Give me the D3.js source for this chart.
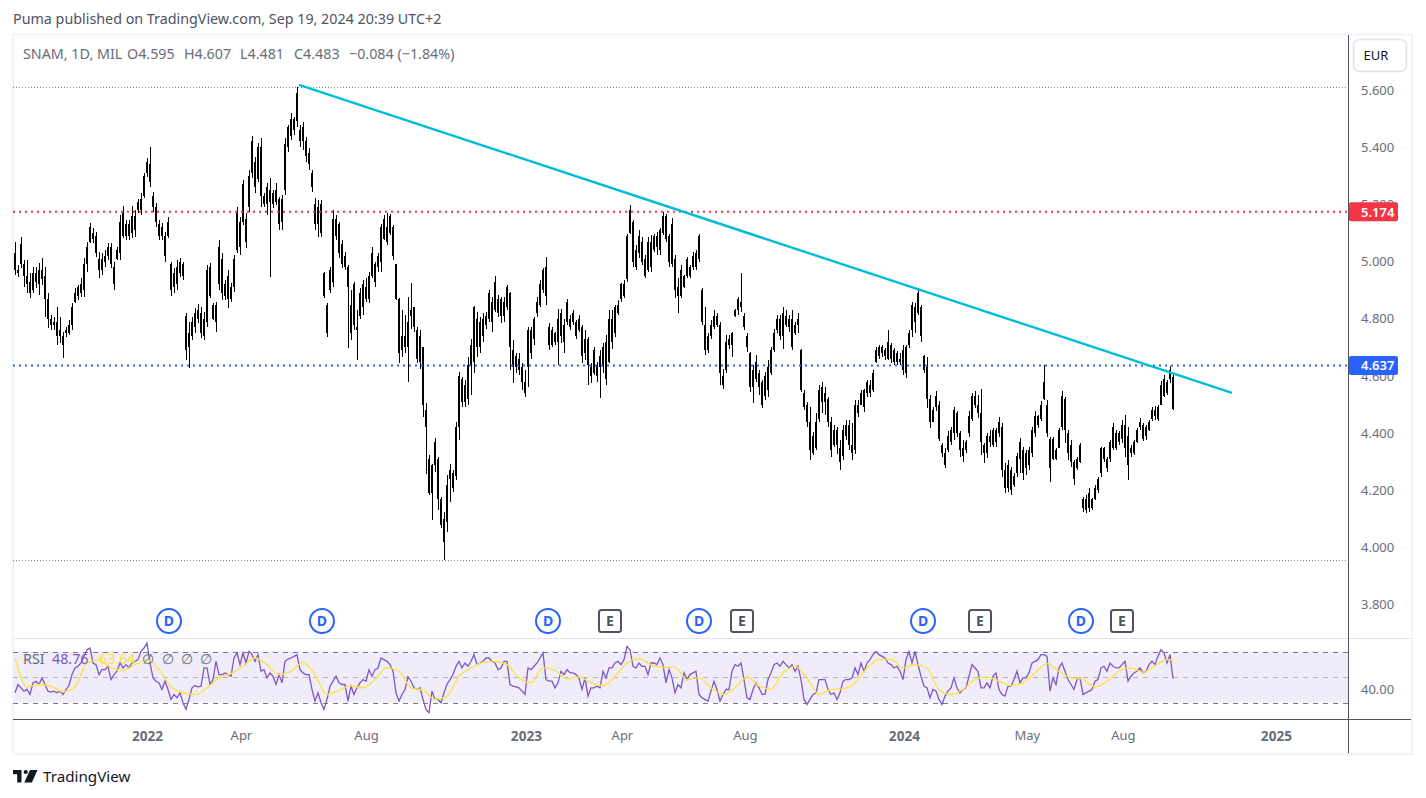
<!DOCTYPE html>
<html>
<head>
<meta charset="utf-8">
<title>SNAM daily</title>
<script src="https://cdn.jsdelivr.net/npm/d3@7/dist/d3.min.js"></script>
<style>
  html, body { margin: 0; padding: 0; background: #fff; }
  svg { display: block; }
  text { font-family: "Noto Sans", sans-serif; }
</style>
</head>
<body>
<svg id="chart" width="1426" height="798"></svg>
<script>
// Price bars, one entry per two sessions, oldest first.
const highs = [
5.067,4.988,5.087,5.006,5.006,4.959,4.982,4.982,4.994,5.011,
4.982,4.889,4.813,4.807,4.842,4.807,4.755,4.772,4.796,4.854,
4.907,4.918,4.942,5.011,5.070,5.134,5.116,5.105,5.035,5.029,
5.041,5.064,5.064,5.000,5.052,5.163,5.194,5.145,5.145,5.194,
5.180,5.218,5.239,5.311,5.361,5.402,5.245,5.204,5.145,5.134,
5.105,5.157,5.000,4.976,5.006,5.011,5.000,4.819,4.790,4.807,
4.837,4.852,4.842,4.825,4.988,4.996,4.854,4.860,5.076,5.029,
4.936,4.971,4.924,5.023,5.192,5.157,5.285,5.169,5.320,5.439,
5.367,5.414,5.431,5.239,5.274,5.291,5.250,5.274,5.227,5.233,
5.431,5.478,5.518,5.507,5.612,5.478,5.487,5.437,5.396,5.321,
5.222,5.216,5.216,4.964,4.854,4.982,5.182,5.163,5.139,5.075,
5.034,4.988,4.900,4.929,4.830,4.906,4.935,4.941,4.964,5.052,
4.999,5.029,5.133,5.163,5.171,5.168,5.128,4.993,4.871,4.830,
4.813,4.877,4.924,4.842,4.772,4.760,4.702,4.504,4.323,4.294,
4.382,4.318,4.178,4.125,4.254,4.294,4.271,4.440,4.615,4.597,
4.586,4.667,4.731,4.844,4.825,4.807,4.819,4.825,4.900,4.877,
4.949,4.883,4.877,4.877,4.918,4.894,4.725,4.679,4.679,4.644,
4.621,4.772,4.772,4.807,4.877,4.935,4.976,5.017,4.784,4.772,
4.755,4.836,4.836,4.801,4.869,4.813,4.830,4.795,4.813,4.778,
4.760,4.737,4.644,4.702,4.650,4.691,4.714,4.743,4.830,4.830,
4.848,4.865,4.924,4.935,5.098,5.198,5.145,5.058,5.110,5.087,
5.023,5.087,5.093,5.098,5.104,5.116,5.174,5.168,5.098,5.151,
5.023,4.941,4.988,4.953,5.017,4.988,5.034,5.040,5.098,4.906,
4.842,4.749,4.795,4.830,4.819,4.790,4.626,4.743,4.743,4.755,
4.836,4.877,4.959,4.819,4.749,4.685,4.638,4.673,4.621,4.586,
4.615,4.656,4.702,4.766,4.813,4.813,4.842,4.830,4.813,4.830,
4.790,4.819,4.696,4.551,4.510,4.492,4.405,4.469,4.568,4.580,
4.562,4.527,4.457,4.428,4.422,4.376,4.428,4.446,4.446,4.434,
4.516,4.516,4.551,4.556,4.586,4.586,4.621,4.702,4.708,4.708,
4.697,4.761,4.715,4.697,4.689,4.680,4.709,4.709,4.761,4.860,
4.854,4.907,4.849,4.674,4.668,4.534,4.493,4.546,4.511,4.365,
4.347,4.406,4.423,4.493,4.476,4.406,4.377,4.377,4.476,4.540,
4.546,4.534,4.554,4.365,4.400,4.412,4.417,4.417,4.458,4.435,
4.295,4.307,4.283,4.260,4.330,4.382,4.353,4.342,4.353,4.423,
4.476,4.464,4.511,4.639,4.516,4.388,4.388,4.347,4.417,4.546,
4.528,4.412,4.377,4.307,4.318,4.365,4.178,4.184,4.208,4.172,
4.219,4.248,4.353,4.353,4.318,4.377,4.435,4.412,4.406,4.446,
4.464,4.423,4.359,4.377,4.417,4.452,4.435,4.429,4.446,4.493,
4.495,4.499,4.581,4.604,4.586,4.636,4.607
];
const lows = [
4.953,4.947,4.979,4.912,4.889,4.872,4.889,4.907,4.883,4.918,
4.808,4.767,4.761,4.761,4.708,4.714,4.662,4.737,4.743,4.761,
4.854,4.866,4.877,4.877,4.965,5.064,5.064,5.017,4.942,4.953,
4.982,5.006,4.976,4.901,5.006,5.006,5.081,5.076,5.076,5.081,
5.087,5.169,5.163,5.221,5.297,5.262,5.175,5.122,5.076,5.076,
5.000,5.081,4.880,4.889,4.901,4.947,4.936,4.656,4.627,4.726,
4.749,4.784,4.732,4.726,4.772,4.872,4.796,4.755,4.901,4.866,
4.866,4.837,4.860,4.895,5.029,5.023,5.128,5.046,5.175,5.291,
5.239,5.279,5.192,5.192,5.163,4.947,5.186,5.198,5.111,5.111,
5.233,5.384,5.425,5.443,5.470,5.402,5.390,5.349,5.320,5.245,
5.111,5.087,5.087,4.871,4.735,4.889,4.910,5.075,5.011,4.976,
4.970,4.699,4.725,4.760,4.656,4.801,4.813,4.860,4.854,4.941,
4.912,4.964,4.964,5.077,5.058,5.093,5.005,4.865,4.644,4.667,
4.679,4.580,4.766,4.755,4.644,4.626,4.457,4.259,4.184,4.096,
4.265,4.131,4.067,3.956,4.055,4.160,4.195,4.236,4.376,4.492,
4.492,4.498,4.533,4.609,4.667,4.679,4.720,4.766,4.790,4.755,
4.825,4.807,4.784,4.790,4.830,4.621,4.574,4.609,4.603,4.551,
4.527,4.562,4.661,4.708,4.807,4.842,4.889,4.848,4.691,4.702,
4.708,4.638,4.714,4.679,4.778,4.760,4.778,4.731,4.755,4.644,
4.656,4.568,4.574,4.603,4.580,4.522,4.609,4.568,4.644,4.696,
4.737,4.813,4.860,4.871,4.929,5.098,4.982,4.970,5.011,4.988,
4.941,4.964,4.964,5.034,5.023,5.023,5.093,5.069,4.982,4.982,
4.871,4.819,4.871,4.906,4.941,4.941,4.970,4.970,5.000,4.778,
4.673,4.679,4.731,4.766,4.772,4.568,4.556,4.609,4.696,4.667,
4.807,4.813,4.825,4.760,4.685,4.545,4.504,4.580,4.533,4.487,
4.516,4.527,4.603,4.685,4.749,4.725,4.696,4.772,4.755,4.691,
4.743,4.749,4.545,4.481,4.422,4.306,4.323,4.341,4.440,4.469,
4.463,4.422,4.318,4.353,4.329,4.271,4.306,4.376,4.341,4.306,
4.329,4.457,4.498,4.475,4.527,4.527,4.545,4.644,4.661,4.667,
4.656,4.656,4.645,4.639,4.639,4.639,4.604,4.592,4.697,4.738,
4.750,4.814,4.720,4.610,4.487,4.417,4.441,4.476,4.371,4.318,
4.277,4.336,4.359,4.377,4.388,4.318,4.301,4.330,4.388,4.441,
4.487,4.452,4.324,4.295,4.312,4.353,4.353,4.353,4.388,4.248,
4.190,4.196,4.184,4.213,4.248,4.260,4.237,4.254,4.272,4.318,
4.388,4.417,4.441,4.516,4.388,4.231,4.306,4.306,4.347,4.412,
4.365,4.306,4.283,4.219,4.272,4.295,4.126,4.120,4.126,4.132,
4.167,4.190,4.248,4.301,4.266,4.301,4.342,4.342,4.359,4.365,
4.318,4.237,4.318,4.324,4.365,4.412,4.371,4.377,4.406,4.441,
4.446,4.441,4.499,4.528,4.534,4.577,4.481
];
const opens = [
5.03,4.97,4.99,4.99,4.95,4.93,4.90,4.96,4.92,4.97,
4.95,4.87,4.80,4.78,4.74,4.76,4.74,4.75,4.75,4.78,
4.86,4.88,4.89,4.90,4.99,5.07,5.10,5.09,5.01,4.97,
5.00,5.02,5.05,4.98,5.01,5.03,5.09,5.13,5.09,5.10,
5.16,5.18,5.18,5.23,5.31,5.34,5.23,5.19,5.13,5.09,
5.09,5.09,4.99,4.91,4.92,4.96,4.99,4.81,4.70,4.74,
4.77,4.80,4.82,4.74,4.79,4.98,4.85,4.79,4.92,5.01,
4.88,4.87,4.91,4.91,5.04,5.14,5.14,5.15,5.19,5.31,
5.35,5.29,5.40,5.23,5.20,5.25,5.20,5.21,5.22,5.14,
5.25,5.40,5.44,5.50,5.49,5.46,5.42,5.42,5.38,5.31,
5.20,5.13,5.20,4.96,4.85,4.90,4.93,5.15,5.13,5.06,
4.98,4.98,4.75,4.78,4.76,4.81,4.84,4.91,4.87,4.95,
4.99,4.98,5.00,5.08,5.12,5.10,5.12,4.99,4.87,4.69,
4.74,4.70,4.81,4.84,4.76,4.65,4.70,4.48,4.31,4.19,
4.29,4.31,4.17,4.10,4.09,4.24,4.26,4.25,4.42,4.59,
4.51,4.52,4.64,4.65,4.80,4.70,4.74,4.78,4.80,4.86,
4.83,4.87,4.81,4.81,4.84,4.89,4.69,4.63,4.66,4.63,
4.58,4.63,4.68,4.73,4.82,4.85,4.90,4.98,4.77,4.71,
4.75,4.72,4.74,4.78,4.79,4.80,4.79,4.79,4.76,4.77,
4.68,4.73,4.63,4.61,4.64,4.67,4.63,4.59,4.65,4.80,
4.75,4.82,4.87,4.92,4.94,5.10,5.14,4.98,5.03,5.07,
5.01,4.97,5.07,5.04,5.09,5.04,5.10,5.16,5.09,4.99,
5.01,4.91,4.88,4.95,4.95,4.98,4.98,5.03,5.01,4.90,
4.78,4.69,4.74,4.77,4.81,4.78,4.57,4.62,4.73,4.71,
4.81,4.83,4.84,4.81,4.74,4.68,4.56,4.59,4.61,4.58,
4.53,4.55,4.61,4.69,4.76,4.80,4.74,4.81,4.77,4.80,
4.75,4.78,4.69,4.54,4.50,4.44,4.33,4.35,4.45,4.56,
4.51,4.52,4.44,4.36,4.41,4.35,4.32,4.39,4.43,4.36,
4.34,4.47,4.50,4.49,4.54,4.57,4.55,4.65,4.67,4.70,
4.67,4.66,4.71,4.69,4.65,4.66,4.69,4.61,4.71,4.76,
4.84,4.82,4.84,4.67,4.63,4.52,4.44,4.49,4.50,4.36,
4.33,4.34,4.37,4.40,4.47,4.40,4.35,4.34,4.40,4.45,
4.53,4.50,4.47,4.36,4.33,4.39,4.36,4.41,4.40,4.42,
4.27,4.21,4.27,4.22,4.26,4.31,4.34,4.28,4.34,4.33,
4.40,4.46,4.45,4.52,4.50,4.38,4.31,4.34,4.35,4.42,
4.52,4.40,4.36,4.30,4.28,4.30,4.17,4.13,4.19,4.17,
4.17,4.20,4.26,4.35,4.31,4.31,4.35,4.40,4.37,4.38,
4.43,4.39,4.33,4.33,4.37,4.42,4.43,4.39,4.41,4.45,
4.48,4.45,4.50,4.53,4.58,4.59,4.595
];
const closes = [
4.97,4.96,5.06,4.95,4.92,4.89,4.96,4.93,4.97,4.94,
4.87,4.80,4.78,4.79,4.79,4.74,4.71,4.76,4.78,4.84,
4.89,4.91,4.92,4.99,5.05,5.12,5.08,5.03,4.97,5.01,
5.02,5.05,4.99,4.92,5.04,5.14,5.17,5.09,5.13,5.16,
5.11,5.21,5.22,5.30,5.35,5.28,5.19,5.14,5.09,5.12,
5.02,5.14,4.90,4.96,4.98,5.00,4.95,4.69,4.75,4.79,
4.82,4.83,4.75,4.80,4.97,4.88,4.80,4.85,5.05,4.89,
4.92,4.95,4.87,5.01,5.17,5.05,5.27,5.07,5.30,5.42,
5.26,5.40,5.23,5.20,5.26,5.21,5.24,5.25,5.13,5.22,
5.41,5.47,5.50,5.46,5.59,5.42,5.47,5.37,5.34,5.26,
5.13,5.19,5.10,4.88,4.75,4.97,5.15,5.09,5.03,4.99,
5.02,4.91,4.85,4.92,4.77,4.89,4.92,4.87,4.95,5.03,
4.93,5.02,5.12,5.15,5.07,5.16,5.02,4.87,4.68,4.74,
4.70,4.79,4.83,4.77,4.66,4.74,4.50,4.42,4.19,4.29,
4.37,4.17,4.08,4.02,4.22,4.27,4.21,4.42,4.60,4.51,
4.57,4.64,4.71,4.84,4.70,4.79,4.80,4.81,4.89,4.79,
4.93,4.82,4.87,4.86,4.91,4.70,4.63,4.67,4.62,4.58,
4.54,4.76,4.76,4.80,4.86,4.92,4.97,4.88,4.71,4.76,
4.72,4.80,4.82,4.72,4.86,4.77,4.82,4.74,4.80,4.67,
4.73,4.64,4.60,4.69,4.60,4.63,4.70,4.72,4.80,4.72,
4.84,4.85,4.92,4.88,5.09,5.18,5.00,5.04,5.09,5.00,
4.95,5.07,4.98,5.09,5.05,5.11,5.16,5.08,5.00,5.13,
4.90,4.88,4.97,4.91,5.01,4.95,5.02,4.98,5.09,4.79,
4.69,4.74,4.78,4.81,4.78,4.61,4.60,4.72,4.71,4.75,
4.83,4.87,4.86,4.77,4.70,4.56,4.62,4.65,4.56,4.50,
4.60,4.63,4.69,4.75,4.80,4.74,4.82,4.78,4.80,4.70,
4.78,4.80,4.55,4.49,4.44,4.34,4.39,4.44,4.55,4.51,
4.54,4.44,4.34,4.41,4.36,4.30,4.41,4.43,4.36,4.33,
4.50,4.50,4.54,4.55,4.58,4.54,4.61,4.69,4.70,4.68,
4.69,4.72,4.66,4.65,4.68,4.65,4.62,4.70,4.75,4.85,
4.79,4.89,4.74,4.62,4.52,4.44,4.48,4.53,4.38,4.33,
4.29,4.39,4.41,4.48,4.40,4.34,4.32,4.37,4.46,4.53,
4.50,4.47,4.37,4.33,4.39,4.37,4.41,4.37,4.44,4.27,
4.21,4.29,4.20,4.25,4.32,4.37,4.26,4.33,4.29,4.41,
4.46,4.43,4.50,4.58,4.40,4.28,4.38,4.31,4.41,4.53,
4.41,4.33,4.30,4.24,4.31,4.36,4.14,4.17,4.14,4.14,
4.21,4.24,4.35,4.31,4.28,4.37,4.42,4.35,4.40,4.43,
4.35,4.29,4.35,4.37,4.41,4.44,4.38,4.42,4.44,4.48,
4.46,4.49,4.57,4.59,4.54,4.62,4.483
];
const previousClose = 4.567;

// Relative strength index for the same bars.
const rsiValues = [
37.6,44.1,41.5,38.9,40.2,36.3,45.4,46.7,44.1,49.3,
44.1,38.9,38.1,38.9,37.6,38.9,36.3,40.2,43.3,51.9,
57.1,58.4,61,66.2,71.4,72.7,61,59.7,51.9,55.8,
55.8,58.4,48,51.9,54.5,61,57.1,59.7,57.1,61,
62.3,63.6,70.1,72.7,76.6,61,49.3,46.7,45.4,40.2,
46.7,40.2,32.4,36.3,33.7,37.6,29.8,24.6,32.4,41.5,
43.3,42.3,42.8,57.1,57.1,44.1,48,62.3,51.9,51.9,
53.2,51.9,50.6,64.9,68.8,59.7,68.8,61,70.1,67.5,
62.3,67.5,54.5,55.8,49.3,53.2,50.6,44.1,51.9,45.4,
62.3,64.1,64.9,66.2,67.5,55.8,53.2,51.9,51.9,40.2,
31.1,37.6,29.8,24.6,32.4,42.8,46.7,50.6,45.4,44.1,
44.1,31.1,42.8,36.3,41.5,45.4,48,46.7,55.8,50.6,
55.8,57.1,64.9,63.6,62.3,59.7,54.5,37.6,31.1,
36.3,40.2,50.1,46.7,41.5,40.2,41.5,32.4,24.6,22,
38.9,32.4,32.4,29.8,37.6,44.1,48,51.9,58.4,62.3,
57.1,61,58.4,62.3,67.5,59.7,61,62.3,64.9,64.9,
62.3,61,55.8,57.1,62.3,62.3,44.1,42.8,42.3,41.5,
38.9,36.3,57.1,55.8,58.4,61,64.9,68.8,48,46.7,
46.7,41.5,45.4,54.5,51.9,55.8,53.2,53.2,51.9,49.3,
40.2,49.3,35,41.5,41.5,42.8,41.5,54.5,49.3,57.1,
57.1,61,62.3,59.7,63.6,74,71.4,58.4,57.1,61,
58.4,58.4,51.9,61,61,59.7,64.9,59.7,45.4,55.8,
49.3,37.6,44.1,41.5,53.2,48,51.9,53.2,54.5,36.3,
33.7,32.4,31.1,38.9,46.7,40.2,31.1,36.3,40.2,40.2,
54.5,59.7,58.4,61,48,33.7,32.4,40.2,45.4,41.5,
36.3,36.3,48,53.2,59.7,61,58.4,62.3,59.7,57.1,
59.7,54.5,58.4,
48,32.4,28.5,32.4,36.3,37.6,48,48,48,40.2,
36.3,37.6,32.4,37.6,46.7,48,48,49.3,57.1,51.9,
61,54.5,61,63.6,67.5,70.1,67.5,66.2,64.9,61,
59.7,57.1,58.4,54.5,48,63.6,70.1,61,70.1,59.7,
50.6,42.8,41.5,33.7,40.2,38.9,32.4,28.5,35,38.9,
41.5,49.3,41.5,37.6,40.2,41.5,50.6,59.7,57.1,54.5,
41.5,41.5,45.4,41.5,50.6,53.2,40.2,36.3,35,42.8,
42.8,48,54.5,45.4,49.3,49.3,53.2,61,62.3,63.6,
67.5,67.5,66.2,38.9,49.3,44.1,57.1,61,54.5,48,
44.1,40.2,48,49.3,36.3,37.6,38.9,40.2,46.7,48,
57.1,58.4,54.5,61,58.4,57.1,57.1,59.7,62.3,46.7,
50.6,53.2,54.5,57.1,53.2,54.5,59.7,62.3,59.7,66.2,
71.4,68.8,61,67.5,48.76
];

// Moving average of the RSI, one reading per four bars plus the last bar.
const rsiAverage = [
64.9,42.3,44.1,42.8,38.4,42.3,61,63.6,57.1,55.3,59.7,63.6,55.8,42.3,37.6,36.3,41.5,
49.3,52.7,58.4,64.9,59.7,51.9,54.5,61.5,51.9,36.3,39.7,42.8,41.5,48,57.1,54.5,
41.5,39.7,32.4,35,50.6,57.1,61.5,62.1,59.7,49.3,45.4,57.1,55.3,48.5,50.1,45.4,43.3,
50.6,61,64.4,59.7,57.6,57.6,48,49.3,41.5,36.3,41.5,50.1,42.8,40.7,53.2,58.4,
49.3,36.3,40.2,40.7,45.4,57.1,63.6,63.6,57.1,59.7,57.1,40.2,36.3,40.2,48,50.1,46.7,
43.3,45.4,53.2,60.5,54.5,49.3,48,42.3,46.7,54.5,57.1,53.7,58.9,63.6,63.64
];

// Axis labels; bar numbers count from the first entry and run past the last for future dates.
const priceTicks = [5.6, 5.4, 5.2, 5.0, 4.8, 4.6, 4.4, 4.2, 4.0, 3.8];
const rsiTicks = [40];
const timeLabels = ["2022", "Apr", "Aug", "2023", "Apr", "Aug", "2024", "May", "Aug", "2025"];
const timeBars = [44, 75.3, 117, 170.3, 202.3, 243.3, 296.3, 337.3, 369.3, 420.3];

// Levels and drawings on the price pane.
const resistanceLevel = 5.174;
const supportLevel = 4.637;
const rangeHigh = 5.609;
const rangeLow = 3.955;
const trendBars = [94.67, 405.67];
const trendPrices = [5.618, 4.541];

// Dividend and earnings events, as bar numbers.
const dividendBars = [51.33, 102.33, 177.67, 228, 302.67, 355.33];
const earningsBars = [198.33, 242.33, 321.67, 369];

const last = highs.length - 1;
const x = d3.scaleLinear().domain([0, last]).range([15, 1173]);
const y = d3.scaleLinear().domain([3.8, 5.6]).range([604.8, 90]);
const yRsi = d3.scaleLinear().domain([30, 70]).range([702.5, 651.5]);

const paneLeft = 13, paneRight = 1348, frameRight = 1411;
const svg = d3.select("#chart");
const GREY = "#6a6d78";

// Outer frame and pane rules
svg.append("rect").attr("x", 13).attr("y", 34.5).attr("width", 1399).attr("height", 719.5)
  .attr("fill", "#fff").attr("stroke", "#F0F3FA").attr("stroke-width", 2);
svg.append("line").attr("x1", paneLeft).attr("x2", frameRight).attr("y1", 638.5).attr("y2", 638.5)
  .attr("stroke", "#E0E3EB");
svg.append("line").attr("x1", paneLeft).attr("x2", frameRight).attr("y1", 719.5).attr("y2", 719.5)
  .attr("stroke", "#50535E");
svg.append("line").attr("x1", paneRight + .5).attr("x2", paneRight + .5).attr("y1", 35).attr("y2", 753)
  .attr("stroke", "#50535E");

// Header and symbol line
svg.append("text").attr("x", 13).attr("y", 24).attr("font-size", 14.3).attr("fill", "#50535E")
  .text("Puma published on TradingView.com, Sep 19, 2024 20:39 UTC+2");
const change = closes[last] - previousClose;
const legendParts = [
  [23, "SNAM, 1D, MIL"],
  [127, `O${opens[last].toFixed(3)}`],
  [184, `H${highs[last].toFixed(3)}`],
  [240, `L${lows[last].toFixed(3)}`],
  [294, `C${closes[last].toFixed(3)}`],
  [349, `\u2212${Math.abs(change).toFixed(3)} (\u2212${Math.abs(change / previousClose * 100).toFixed(2)}%)`]
];
svg.append("g").selectAll("text").data(legendParts).join("text")
  .attr("x", d => d[0]).attr("y", 59).attr("font-size", 14.3).attr("fill", GREY).text(d => d[1]);

// Range extremes behind the bars
[rangeHigh, rangeLow].forEach(v => {
  svg.append("line").attr("x1", paneLeft).attr("x2", paneRight - 1)
    .attr("y1", Math.round(y(v)) + .5).attr("y2", Math.round(y(v)) + .5)
    .attr("stroke", "#787B86").attr("stroke-dasharray", "1 2");
});

// Candles
const candles = svg.append("g").attr("fill", "#000").attr("shape-rendering", "crispEdges");
candles.selectAll(".wick").data(highs).join("rect").attr("class", "wick")
  .attr("x", (d, i) => x(i) - .5).attr("width", 1)
  .attr("y", d => y(d)).attr("height", (d, i) => y(lows[i]) - y(d));
candles.selectAll(".body").data(opens).join("rect").attr("class", "body")
  .attr("x", (d, i) => x(i) - 1).attr("width", 2)
  .attr("y", (d, i) => y(Math.max(d, closes[i])))
  .attr("height", (d, i) => Math.max(1, Math.abs(y(d) - y(closes[i]))));

// Horizontal levels
[[resistanceLevel, "#F23645"], [supportLevel, "#2962FF"]].forEach(([v, c]) => {
  svg.append("line").attr("x1", paneLeft).attr("x2", paneRight)
    .attr("y1", y(v)).attr("y2", y(v))
    .attr("stroke", c).attr("stroke-width", 2).attr("stroke-dasharray", "2 4");
});

// Trend line
svg.append("line")
  .attr("x1", x(trendBars[0])).attr("y1", y(trendPrices[0]))
  .attr("x2", x(trendBars[1])).attr("y2", y(trendPrices[1]))
  .attr("stroke", "#00BCD4").attr("stroke-width", 2.4);

// Price axis
const priceAxis = svg.append("g").attr("transform", `translate(${paneRight},0)`)
  .call(d3.axisRight(y).tickValues(priceTicks).tickFormat(d3.format(".3f")).tickSize(0).tickPadding(13));
priceAxis.select(".domain").remove();
priceAxis.selectAll("text").attr("font-size", 13).attr("fill", GREY).style("font-family", '"Noto Sans", sans-serif');

// Value tags on the axis
[[resistanceLevel, "#F23645"], [supportLevel, "#2962FF"]].forEach(([v, c]) => {
  svg.append("rect").attr("x", paneRight + 1).attr("y", y(v) - 9.5).attr("width", 49).attr("height", 19)
    .attr("rx", 2).attr("fill", c);
  svg.append("text").attr("x", paneRight + 13).attr("y", y(v) + 4.7).attr("font-size", 13)
    .attr("font-weight", 600).attr("fill", "#fff").text(v.toFixed(3));
});

// Currency button
svg.append("rect").attr("x", 1353.5).attr("y", 39.5).attr("width", 53).attr("height", 32).attr("rx", 6)
  .attr("fill", "#fff").attr("stroke", "#E0E3EB").attr("stroke-width", 1.5);
svg.append("text").attr("x", 1376).attr("y", 60).attr("text-anchor", "middle").attr("font-size", 13)
  .attr("fill", "#131722").text("EUR");

// Event markers
const markerY = 621;
const dividends = svg.append("g").selectAll("g").data(dividendBars).join("g")
  .attr("transform", d => `translate(${x(d)},${markerY})`);
dividends.append("circle").attr("r", 12).attr("fill", "#fff").attr("stroke", "#2962FF").attr("stroke-width", 2);
dividends.append("text").attr("text-anchor", "middle").attr("y", 5).attr("font-size", 14)
  .attr("font-weight", 700).attr("fill", "#2962FF").text("D");
const earnings = svg.append("g").selectAll("g").data(earningsBars).join("g")
  .attr("transform", d => `translate(${x(d)},${markerY})`);
earnings.append("rect").attr("x", -11).attr("y", -11).attr("width", 22).attr("height", 22).attr("rx", 2.5)
  .attr("fill", "#fff").attr("stroke", "#50535E").attr("stroke-width", 2);
earnings.append("text").attr("text-anchor", "middle").attr("y", 5).attr("font-size", 14)
  .attr("font-weight", 700).attr("fill", "#50535E").text("E");

// RSI pane
svg.append("rect").attr("x", paneLeft + 1).attr("width", paneRight - paneLeft - 1)
  .attr("y", yRsi(70)).attr("height", yRsi(30) - yRsi(70)).attr("fill", "#F0ECF9");
[[70, "#787B86"], [50, "#B2B5BE"], [30, "#787B86"]].forEach(([v, c]) => {
  svg.append("line").attr("x1", paneLeft).attr("x2", paneRight)
    .attr("y1", Math.round(yRsi(v)) + .5).attr("y2", Math.round(yRsi(v)) + .5)
    .attr("stroke", c).attr("stroke-dasharray", "5 5");
});
svg.append("path").datum(rsiValues)
  .attr("fill", "none").attr("stroke", "#7E57C2").attr("stroke-width", 1.3)
  .attr("d", d3.line().x((d, i) => x(i)).y(d => yRsi(d)));
const averageBars = d3.range(0, last, 4).concat(last);
svg.append("path").datum(rsiAverage)
  .attr("fill", "none").attr("stroke", "#FBE43C").attr("stroke-width", 1.3)
  .attr("d", d3.line().x((d, i) => x(averageBars[i])).y(d => yRsi(d)).curve(d3.curveMonotoneX));

const rsiAxis = svg.append("g").attr("transform", `translate(${paneRight},0)`)
  .call(d3.axisRight(yRsi).tickValues(rsiTicks).tickFormat(d3.format(".2f")).tickSize(0).tickPadding(13));
rsiAxis.select(".domain").remove();
rsiAxis.selectAll("text").attr("font-size", 13).attr("fill", GREY).style("font-family", '"Noto Sans", sans-serif');

// RSI legend
const rsiLegendY = 664;
svg.append("text").attr("x", 23).attr("y", rsiLegendY).attr("font-size", 14.3).attr("fill", GREY).text("RSI");
svg.append("text").attr("x", 52).attr("y", rsiLegendY).attr("font-size", 14.3).attr("fill", "#7E57C2")
  .text(rsiValues[last].toFixed(2));
svg.append("text").attr("x", 99).attr("y", rsiLegendY).attr("font-size", 14.3).attr("fill", "#FBE43C")
  .text(rsiAverage[rsiAverage.length - 1].toFixed(2));
svg.selectAll(".naught").data([148, 168, 187, 206]).join("text").attr("class", "naught")
  .attr("x", d => d).attr("y", rsiLegendY).attr("text-anchor", "middle").attr("font-size", 14.3)
  .attr("fill", GREY).text("\u2205");

// Time axis
const timeAxis = svg.append("g").attr("transform", "translate(0,719)")
  .call(d3.axisBottom(x).tickValues(timeBars).tickFormat((d, i) => timeLabels[i]).tickSize(0).tickPadding(12));
timeAxis.select(".domain").remove();
timeAxis.selectAll("text").attr("fill", GREY)
  .style("font-family", '"Noto Sans", sans-serif')
  .attr("font-size", (d, i) => /^\d/.test(timeLabels[i]) ? 13.6 : 13)
  .attr("font-weight", (d, i) => /^\d/.test(timeLabels[i]) ? 700 : 400);

// Wordmark
const mark = svg.append("g").attr("fill", "#131722");
mark.append("path").attr("d", "M13 770h8.5v12.5h-4.3v-8.2H13z");
mark.append("circle").attr("cx", 25.7).attr("cy", 772).attr("r", 2.1);
mark.append("path").attr("d", "M30 770h7.5l-5.6 12.5h-7.6z");
svg.append("text").attr("x", 43).attr("y", 781.5).attr("font-size", 15.2).attr("fill", "#131722").text("TradingView");
</script>
</body>
</html>
